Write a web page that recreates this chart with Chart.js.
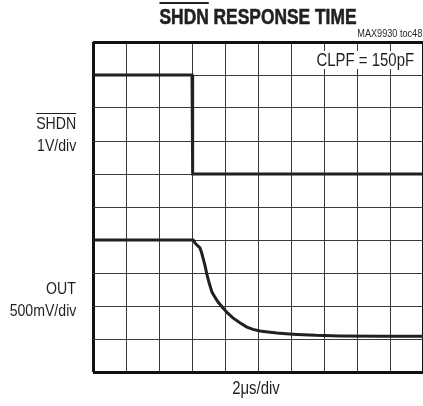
<!DOCTYPE html>
<html>
<head>
<meta charset="utf-8">
<script src="https://cdn.jsdelivr.net/npm/chart.js@4/dist/chart.umd.min.js"></script>
<style>
  html, body { margin: 0; padding: 0; background: #fff; overflow: hidden; }
  #wrap { position: relative; width: 423px; height: 406px; }
  #scope { position: absolute; left: 0; top: 0; }
  .lbl {
    position: absolute; line-height: 1; white-space: nowrap; color: #231f20;
    font-family: "Liberation Sans", Arial, sans-serif;
  }
  /* narrow look: squeeze the regular face horizontally */
  .r { transform: scaleX(0.83); transform-origin: right center; }
  .c { transform: scaleX(0.83); transform-origin: center center; }
  .ov { text-decoration: overline; text-decoration-thickness: 1px; }
  .title { font-size: 22px; font-weight: bold; -webkit-text-stroke: 0.6px #231f20; transform: scaleX(0.79); }
</style>
</head>
<body>
<div id="wrap">
  <canvas id="scope" width="423" height="406"></canvas>
  <div class="lbl c title" style="left:0;width:516px;top:6px;text-align:center;">
    <span class="ov" style="text-decoration-thickness:2px">SHDN</span> RESPONSE TIME</div>
  <div class="lbl r" style="right:1px;top:28px;font-size:11px;">MAX9930 toc48</div>
  <div class="lbl r" style="right:6px;top:51px;font-size:18px;background:#fff;padding:0 3px;">CLPF = 150pF</div>
  <div class="lbl r" style="right:347px;top:115px;font-size:17px;"><span class="ov">SHDN</span></div>
  <div class="lbl r" style="right:347px;top:137px;font-size:17px;">1V/div</div>
  <div class="lbl r" style="right:347px;top:280px;font-size:17px;">OUT</div>
  <div class="lbl r" style="right:347px;top:302px;font-size:17px;">500mV/div</div>
  <div class="lbl c" style="left:93px;width:326px;top:379px;font-size:18px;text-align:center;">2μs/div</div>
</div>
<script>
// horizontal: 2 µs per division, 10 divisions
const timeTicksUs = [0, 2, 4, 6, 8, 10, 12, 14, 16, 18, 20];
// vertical position in screen divisions (0 = bottom, 10 = top)
const divTicks = [0, 1, 2, 3, 4, 5, 6, 7, 8, 9, 10];

// SHDN trace (1V/div)
const shdnTimeUs = [0, 6.0, 6.04, 20];
const shdnDiv    = [9.0, 9.0, 6.0, 6.0];

// OUT trace (500mV/div)
const outTimeUs = [0, 6.06, 6.12, 6.18, 6.3, 6.48, 6.58, 6.67, 6.8, 6.91, 7.05, 7.21, 7.4, 7.58, 7.88, 8.15, 8.48,
                   8.9, 9.33, 9.7, 10.12, 10.6, 11.15, 11.7, 12.36, 13.5, 14.97, 17.5, 20];
const outDiv    = [4.0, 4.0, 3.97, 3.91, 3.85, 3.76, 3.62, 3.45, 3.2, 2.94, 2.68, 2.42, 2.26, 2.12, 1.94, 1.79, 1.64,
                   1.49, 1.36, 1.29, 1.24, 1.21, 1.18, 1.16, 1.14, 1.11, 1.09, 1.08, 1.08];

function pts(xs, ys) {
  return xs.map((x, i) => ({ x: x, y: ys[i] }));
}

// frame edges thicker than the inner graticule
function isEdge(ctx) {
  const n = ctx.chart.scales[ctx.scale.id].ticks.length;
  return ctx.index === 0 || ctx.index === n - 1;
}

new Chart(document.getElementById("scope"), {
  type: "scatter",
  data: {
    datasets: [
      {
        label: "SHDN",
        data: pts(shdnTimeUs, shdnDiv),
        showLine: true,
        borderColor: "#231f20",
        borderWidth: 3,
        pointRadius: 0,
        tension: 0
      },
      {
        label: "OUT",
        data: pts(outTimeUs, outDiv),
        showLine: true,
        borderColor: "#231f20",
        borderWidth: 3,
        pointRadius: 0,
        tension: 0
      }
    ]
  },
  options: {
    responsive: false,
    animation: false,
    layout: { padding: { left: 93, top: 42, right: 0, bottom: 34 } },
    plugins: { legend: { display: false }, tooltip: { enabled: false } },
    scales: {
      x: {
        type: "linear",
        min: 0,
        max: 20,
        afterBuildTicks: s => { s.ticks = timeTicksUs.map(v => ({ value: v })); },
        ticks: { display: false },
        border: { display: false },
        grid: {
          drawTicks: false,
          lineWidth: c => isEdge(c) ? 3 : 1,
          color: c => isEdge(c) ? "#111" : "#3a3a3a"
        }
      },
      y: {
        type: "linear",
        min: 0,
        max: 10,
        afterBuildTicks: s => { s.ticks = divTicks.map(v => ({ value: v })); },
        ticks: { display: false },
        border: { display: false },
        grid: {
          drawTicks: false,
          lineWidth: c => isEdge(c) ? 3 : 1,
          color: c => isEdge(c) ? "#111" : "#3a3a3a"
        }
      }
    }
  }
});
</script>
</body>
</html>
